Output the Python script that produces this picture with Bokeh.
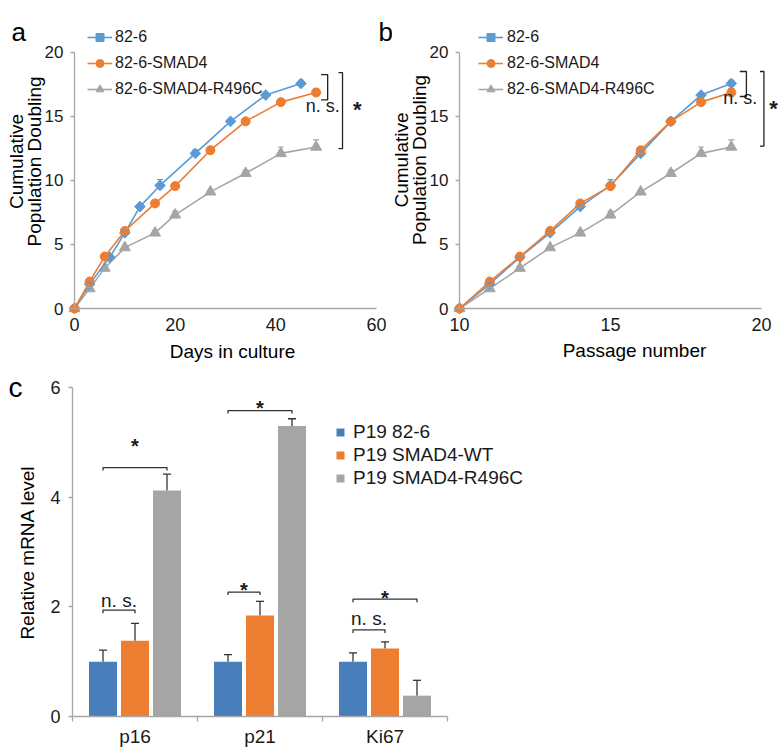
import numpy as np
from bokeh.plotting import figure
from bokeh.models import (Range1d, FixedTicker, Whisker, TeeHead, ColumnDataSource,
                          Legend, LegendItem, Label, LinearAxis)
from bokeh.layouts import row, column
from bokeh.embed import file_html
from bokeh.resources import INLINE
from bokeh.core.properties import value

FONT = "Liberation Sans"
AXIS_GRAY = "#A6A6A6"
TXT = "#1a1a1a"

# ---------------- data: panels a / b ----------------
series_names = ["82-6", "82-6-SMAD4", "82-6-SMAD4-R496C"]
series_colors = ["#5B9BD5", "#ED7D31", "#A5A5A5"]
days_826 = [0, 3, 7, 10, 13, 17, 24, 31, 38, 45]
days_smad4 = [0, 3, 6, 10, 16, 20, 27, 34, 41, 48]
days_r496c = [0, 3, 6, 10, 16, 20, 27, 34, 41, 48]
passage = [10, 11, 12, 13, 14, 15, 16, 17, 18, 19]
pd_826 = [0, 1.9, 4.0, 5.9, 7.95, 9.6, 12.1, 14.6, 16.65, 17.55]
pd_826_err = [0, 0.1, 0.1, 0.15, 0.15, 0.45, 0.25, 0.15, 0.15, 0.25]
pd_smad4 = [0, 2.1, 4.05, 6.05, 8.2, 9.55, 12.35, 14.6, 16.1, 16.85]
pd_smad4_err = [0, 0.1, 0.1, 0.1, 0.1, 0.25, 0.1, 0.1, 0.1, 0.3]
pd_r496c = [0, 1.55, 3.15, 4.75, 5.9, 7.3, 9.1, 10.55, 12.1, 12.6]
pd_r496c_err = [0, 0.1, 0.1, 0.1, 0.15, 0.3, 0.1, 0.25, 0.5, 0.55]
y_ticks_ab = [0, 5, 10, 15, 20]
x_ticks_a = [0, 20, 40, 60]
x_ticks_b = [10, 15, 20]

# significance brackets (a, b): vertical line x, tick length, top, bottom
brk_a = dict(x=[50.3, 53.25], tick=[1.3, 0.8], top=[18.25, 18.4], bottom=[16.28, 12.48])
brk_b = dict(x=[19.5, 20.08], tick=[0.22, 0.13], top=[18.49, 18.49], bottom=[16.54, 12.66])
sig_a = dict(x=[49.3, 56.2], y=[15.8, 15.5], text=["n. s.", "*"])
sig_b = dict(x=[19.3, 20.4], y=[16.4, 15.64], text=["n. s.", "*"])

# ---------------- data: panel c ----------------
genes = ["p16", "p21", "Ki67"]
bar_names = ["P19 82-6", "P19 SMAD4-WT", "P19 SMAD4-R496C"]
bar_colors = ["#4A7EBB", "#ED7D31", "#A5A5A5"]
mrna_826 = [1.0, 1.0, 1.0]
mrna_826_err = [0.21, 0.13, 0.16]
mrna_wt = [1.38, 1.84, 1.24]
mrna_wt_err = [0.32, 0.26, 0.12]
mrna_r496c = [4.12, 5.30, 0.38]
mrna_r496c_err = [0.30, 0.13, 0.28]
y_ticks_c = [0, 2, 4, 6]
# significance: gene index, series from, series to, bracket level, label, label y
sig_gene = [0, 0, 1, 1, 2, 2]
sig_from = [0, 0, 0, 0, 0, 0]
sig_to = [1, 2, 1, 2, 2, 1]
sig_level = [1.94, 4.54, 2.27, 5.58, 2.14, 1.58]
sig_label = ["n. s.", "*", "*", "*", "*", "n. s."]
sig_label_y = [2.11, 4.94, 2.30, 5.62, 2.17, 1.78]

# ---------------- layout geometry (pixels) ----------------
AB_H = 366          # height of the top row
AB_Y0 = 308         # canvas y of value 0 (panels a, b)
AB_PPY = 282 / 22   # px per unit, panels a, b
A_W, A_X0, A_PPX = 392, 74, 302 / 60
B_W, B_X0, B_PPX = 388, 67, 30.2
C_W, C_H, C_X0, C_Y0 = 608, 382, 72, 350
C_PPX, C_PPY = 125, 329 / 6


def base_fig(width, height, x_lo, x_hi, y_lo, y_hi):
    p = figure(width=width, height=height, x_range=Range1d(x_lo, x_hi),
               y_range=Range1d(y_lo, y_hi), output_backend="svg",
               toolbar_location=None, title=None,
               x_axis_location=None, y_axis_location=None,
               min_border_left=0, min_border_right=0, min_border_top=0, min_border_bottom=0)
    p.outline_line_color = None
    p.grid.visible = False
    return p


def style_axis(ax):
    ax.axis_line_color = AXIS_GRAY
    ax.axis_line_width = 1.3
    ax.major_tick_line_color = AXIS_GRAY
    ax.major_tick_line_width = 1.3
    ax.minor_tick_line_color = None
    ax.major_tick_in = 0
    ax.major_label_text_font = FONT
    ax.major_label_text_color = TXT


def add_label(p, text, x, y, size, angle=0.0, align="center", baseline="middle", style="normal"):
    p.add_layout(Label(x=x, y=y, x_units="canvas", y_units="canvas", text=text,
                       angle=angle, text_align=align, text_baseline=baseline,
                       text_font=FONT, text_font_size=size, text_font_style=style,
                       text_color="#000000"))


def line_panel(xsets, x_origin, width, x0px, ppx, xticks, legend_vx, legend_standoff, brk, sig):
    p = base_fig(width, AB_H,
                 x_origin - x0px / ppx, x_origin + (width - x0px) / ppx,
                 -(AB_H - AB_Y0) / AB_PPY, AB_Y0 / AB_PPY)
    xa = LinearAxis(fixed_location=0, ticker=FixedTicker(ticks=xticks),
                    bounds=(xticks[0], xticks[-1]))
    style_axis(xa)
    xa.major_tick_out = 0
    xa.major_label_standoff = 9
    xa.major_label_text_font_size = "18px"
    p.add_layout(xa, "below")
    ya = LinearAxis(fixed_location=x_origin, ticker=FixedTicker(ticks=y_ticks_ab),
                    bounds=(0, 20))
    style_axis(ya)
    ya.major_tick_out = 4
    ya.major_label_standoff = 7
    ya.major_label_text_font_size = "17px"
    p.add_layout(ya, "left")

    ys_list = [(pd_r496c, pd_r496c_err, 2), (pd_826, pd_826_err, 0), (pd_smad4, pd_smad4_err, 1)]
    markers = {0: ("square", 7.5, np.pi / 4), 1: ("circle", 9, 0), 2: ("triangle", 11, 0)}
    items = {}
    for ys, err, k in ys_list:
        color = series_colors[k]
        src = ColumnDataSource(dict(x=xsets[k], y=ys, up=[a + b for a, b in zip(ys, err)]))
        w = Whisker(source=src, base="x", upper="up", lower="y", dimension="height",
                    line_color=color, line_width=1.2,
                    upper_head=TeeHead(size=6, line_color=color, line_width=1.2),
                    lower_head=None, level="glyph")
        p.add_layout(w)
        lr = p.line("x", "y", source=src, line_color=color, line_width=1.6)
        mk, sz, ang = markers[k]
        sr = p.scatter("x", "y", source=src, marker=mk, size=sz, angle=ang,
                       fill_color=color, line_color=color)
        items[k] = LegendItem(label=series_names[k], renderers=[lr, sr])
    leg = Legend(items=[items[0], items[1], items[2]], location=(legend_vx, 267),
                 glyph_width=25, glyph_height=20, label_height=20,
                 label_standoff=legend_standoff, spacing=6, padding=0, margin=0,
                 border_line_color=None, background_fill_alpha=0,
                 label_text_font=FONT, label_text_font_size="16px",
                 label_text_color=TXT)
    p.add_layout(leg)

    bxs, bys = [], []
    for x, t, top, bot in zip(brk["x"], brk["tick"], brk["top"], brk["bottom"]):
        bxs.append([x - t, x, x, x - t])
        bys.append([top, top, bot, bot])
    p.multi_line(bxs, bys, line_color="#222222", line_width=1.3)
    ns = [i for i, s in enumerate(sig["text"]) if s != "*"]
    st = [i for i, s in enumerate(sig["text"]) if s == "*"]
    p.text([sig["x"][i] for i in ns], [sig["y"][i] for i in ns], text=[sig["text"][i] for i in ns],
           text_font=value(FONT), text_font_size="18px", text_align="center",
           text_baseline="middle", text_color=TXT)
    p.text([sig["x"][i] for i in st], [sig["y"][i] for i in st], text=[sig["text"][i] for i in st],
           text_font=value(FONT), text_font_size="22px", text_font_style="bold",
           text_align="center", text_baseline="middle", text_color=TXT)
    return p


pa = line_panel([days_826, days_smad4, days_r496c], 0, A_W, A_X0, A_PPX, x_ticks_a, 87, 3, brk_a, sig_a)
pb = line_panel([passage, passage, passage], 10, B_W, B_X0, B_PPX, x_ticks_b, 86, 4, brk_b, sig_b)

add_label(pa, "a", 11, 31, "26px", align="left", baseline="alphabetic")
add_label(pa, "b", 378, 31, "26px", align="left", baseline="alphabetic")
add_label(pa, "Cumulative", 16, 161, "19px", angle=np.pi / 2)
add_label(pa, "Population Doubling", 34, 161, "19px", angle=np.pi / 2)
add_label(pa, "Days in culture", 232, 350.5, "19px")
add_label(pb, "Cumulative", 8.5, 159.5, "19px", angle=np.pi / 2)
add_label(pb, "Population Doubling", 26.5, 159.5, "19px", angle=np.pi / 2)
add_label(pb, "Passage number", 242, 349.5, "19px")

# ---------------- panel c ----------------
pc = base_fig(C_W, C_H, -C_X0 / C_PPX, (C_W - C_X0) / C_PPX,
              -(C_H - C_Y0) / C_PPY, C_Y0 / C_PPY)
centers = [i + 0.5 for i in range(len(genes))]
xc = LinearAxis(fixed_location=0,
                ticker=FixedTicker(ticks=centers, minor_ticks=list(range(len(genes) + 1))),
                bounds=(0, len(genes)))
style_axis(xc)
xc.major_label_overrides = {c: g for c, g in zip(centers, genes)}
xc.major_tick_line_color = None
xc.major_tick_out = 0
xc.minor_tick_line_color = AXIS_GRAY
xc.minor_tick_line_width = 1.3
xc.minor_tick_out = 5
xc.minor_tick_in = 0
xc.major_label_standoff = 4
xc.major_label_text_font_size = "19px"
pc.add_layout(xc, "below")
yc = LinearAxis(fixed_location=0, ticker=FixedTicker(ticks=y_ticks_c), bounds=(0, 6))
style_axis(yc)
yc.major_tick_out = 4
yc.major_label_standoff = 8
yc.major_label_text_font_size = "18px"
pc.add_layout(yc, "left")

offsets = [-0.256, 0.0, 0.256]
bar_w = 0.224
bar_vals = [(mrna_826, mrna_826_err), (mrna_wt, mrna_wt_err), (mrna_r496c, mrna_r496c_err)]
bar_x = []
bar_items = []
for k, (vals, errs) in enumerate(bar_vals):
    xs = [c + offsets[k] for c in centers]
    bar_x.append(xs)
    src = ColumnDataSource(dict(x=xs, top=vals, up=[a + b for a, b in zip(vals, errs)]))
    r = pc.vbar(x="x", top="top", width=bar_w, source=src, fill_color=bar_colors[k], line_color=None)
    pc.add_layout(Whisker(source=src, base="x", upper="up", lower="top", dimension="height",
                          line_color="#333333", line_width=1.3,
                          upper_head=TeeHead(size=8, line_color="#333333", line_width=1.3),
                          lower_head=None))
    bar_items.append(LegendItem(label=bar_names[k], renderers=[r]))

legc = Legend(items=bar_items, location=(335, 259), glyph_width=10, glyph_height=10,
              label_height=20, label_standoff=8, spacing=1, padding=0, margin=0,
              border_line_color=None, background_fill_alpha=0,
              label_text_font=FONT, label_text_font_size="19px", label_text_color=TXT)
pc.add_layout(legc)

leg_h = 0.055
cxs, cys, tx, ty, tt = [], [], [], [], []
for g, a, b, lvl, lab, ly in zip(sig_gene, sig_from, sig_to, sig_level, sig_label, sig_label_y):
    x1, x2 = bar_x[a][g], bar_x[b][g]
    cxs.append([x1, x1, x2, x2])
    cys.append([lvl - leg_h, lvl, lvl, lvl - leg_h])
    tx.append((x1 + x2) / 2)
    ty.append(ly)
    tt.append(lab)
pc.multi_line(cxs, cys, line_color="#333333", line_width=1.3)
ns_i = [i for i, s in enumerate(tt) if s != "*"]
st_i = [i for i, s in enumerate(tt) if s == "*"]
pc.text([tx[i] for i in ns_i], [ty[i] for i in ns_i], text=[tt[i] for i in ns_i],
        text_font=value(FONT), text_font_size="19px", text_align="center",
        text_baseline="middle", text_color=TXT)
pc.text([tx[i] for i in st_i], [ty[i] for i in st_i], text=[tt[i] for i in st_i],
        text_font=value(FONT), text_font_size="20px", text_font_style="bold",
        text_align="center", text_baseline="middle", text_color=TXT)

add_label(pc, "c", 8, 21, "28px", align="left", baseline="alphabetic")
add_label(pc, "Relative mRNA level", 27, 186, "19px", angle=np.pi / 2)

layout = column(row(pa, pb), pc)
open("out.html", "w").write(file_html(layout, INLINE))
